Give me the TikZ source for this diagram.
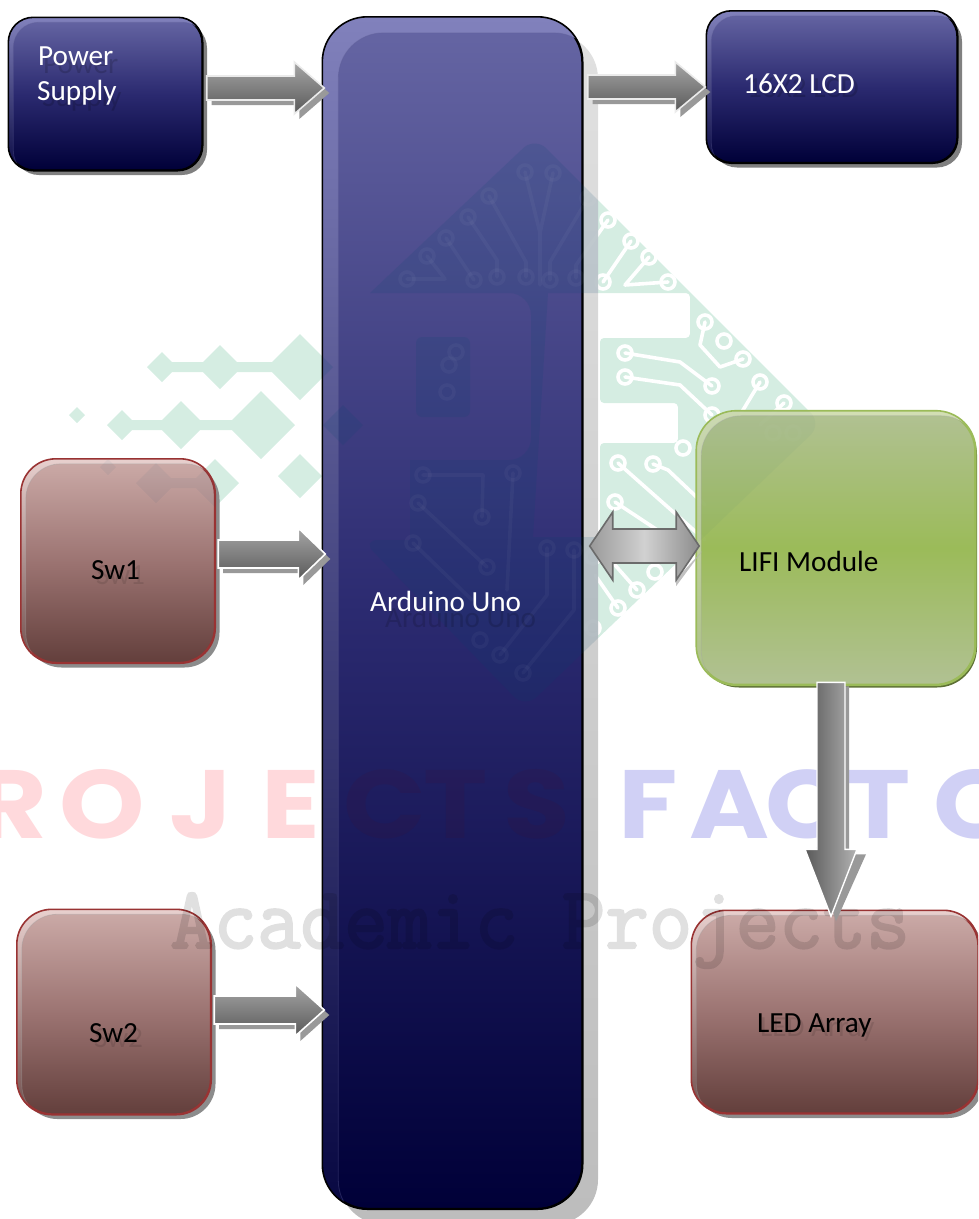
\documentclass[tikz,border=0pt]{standalone}
\usepackage{fontspec}
\setmainfont{Carlito}
\newfontfamily\wmb{Poppins}
\newfontfamily\wmt{Latin Modern Mono}[FakeBold=2.5]
\usetikzlibrary{calc,shadows}
\definecolor{navyT}{HTML}{6666A4}\definecolor{navyM}{HTML}{2B2A70}\definecolor{navyB}{HTML}{000038}
\definecolor{navyLT}{HTML}{8181BC}\definecolor{navyLB}{HTML}{060640}
\definecolor{redT}{HTML}{CCABA8}\definecolor{redM}{HTML}{9C7472}\definecolor{redB}{HTML}{633F3C}
\definecolor{redLT}{HTML}{E8D0CE}\definecolor{redLB}{HTML}{6E4C4A}\definecolor{redE}{HTML}{993333}
\definecolor{grnT}{HTML}{B1C193}\definecolor{grnM}{HTML}{9BBB59}\definecolor{grnLT}{HTML}{D2DEB4}\definecolor{grnLB}{HTML}{AABF85}
\definecolor{logoG}{HTML}{D5EDE2}\definecolor{logoD}{HTML}{00466E}
\definecolor{wmRed}{HTML}{FFD9DC}\definecolor{wmBlue}{HTML}{D0D0F5}
\tikzset{
  navybox/.style={draw=black,line width=1.4pt,top color=navyT,bottom color=navyB,middle color=navyM,inner sep=0pt,
    general shadow={shadow xshift=5pt,shadow yshift=-5pt,fill=black!50}},
  redbox/.style={draw=redE,line width=1.4pt,top color=redT,bottom color=redB,middle color=redM,inner sep=0pt,
    general shadow={shadow xshift=5pt,shadow yshift=-5pt,fill=black!45}},
  lbl/.style={anchor=base west,inner sep=0pt,font=\fontsize{29.2}{30}\selectfont},
  lblsh/.style={lbl,text=black,text opacity=.16},
  wm/.style={anchor=base west,inner sep=0pt,xscale=1.12,font=\wmb\bfseries\fontsize{97}{97}\selectfont},
  arrshadow/.style={fill=black!40},
  arrbody/.style={draw=black!5,line width=1.6pt,top color=black!35,bottom color=black!65,miter limit=10},
  trace/.style={line width=3.6pt,line join=round,line cap=round},
}
% ---------- logo geometry
\newcommand{\logobody}{[rounded corners=16pt] (370,293) -- (535,137) -- (822,424) -- (525,708) -- (362,540) [sharp corners] -- (410,540) -- (410,460) -- (505,460) [rounded corners=22pt] -- (531,460) -- (531,293) [sharp corners] -- cycle
  (548,293) [rounded corners=4pt] -- (690,293) -- (690,338) -- (600,338) -- (600,403) -- (678,403) -- (678,443) -- (600,443) [sharp corners] -- (600,537) -- (533,537) -- cycle
  [rounded corners=6pt] (416,337) rectangle (470,417)}
\newcommand{\dia}[3]{({#1-#3},#2) -- (#1,{#2-#3}) -- ({#1+#3},#2) -- (#1,{#2+#3}) -- cycle}
\newcommand{\hbarr}[3]{(#1,{#3-5}) -- (#2,{#3-5}) -- (#2,{#3+5}) -- (#1,{#3+5}) -- cycle}
\newcommand{\logodiamonds}{\dia{77}{415}{8} \dia{162}{367}{15} \dia{220}{367}{22} \dia{300}{367}{33} \hbarr{162}{300}{367}
  \dia{122}{425}{15} \dia{181}{425}{24} \dia{261}{425}{34} \hbarr{122}{261}{425} \dia{343}{425}{20}
  \dia{108}{467}{8} \dia{156}{483}{20} \dia{215}{483}{24} \dia{300}{476}{22} \hbarr{156}{215}{483}}
\newcommand{\logotraces}{
  (407,279) -- (445,279) -- (427,256) (446,238) -- (474,280) (468,217) -- (497,260) -- (497,277)
  (489,196) -- (526,262) -- (526,277) (525,172) -- (540,233) -- (553,173) (540,233) -- (540,285)
  (588,198) -- (550,262) -- (550,280) (608,220) -- (576,265) -- (576,278) (631,241) -- (603,282) (649,257) -- (625,285) -- (668,282)
  (705,322) -- (700,345) -- (720,367) -- (743,359) (625,353) -- (680,362) -- (712,386) (625,377) -- (680,385) -- (712,415)
  (760,382) -- (740,415) (784,403) -- (760,425)
  (618,463) -- (705,540) (653,464) -- (668,470) -- (705,505) (615,502) -- (680,545) (637,590) -- (600,548) (618,608) -- (595,575)
  (423,475) -- (483,475) -- (482,517) (418,503) -- (487,567) (413,543) -- (472,600) (513,473) -- (507,590)
  (547,548) -- (547,595) -- (500,655) (574,550) -- (574,610) -- (523,673)}
\newcommand{\logorings}{
  \foreach \p in {(407,279),(427,256),(446,238),(468,217),(489,196),(525,172),(553,173),(474,280),(497,277),(526,277),(550,280),(576,278),(603,282),(588,198),(608,220),(631,241),(649,257),(668,282),(705,322),(724,341),(743,359),(625,353),(625,377),(712,386),(712,415),(760,382),(784,403),(683,448),(618,463),(653,464),(615,502),(637,590),(618,608),(655,572),(593,628),(593,557),(423,475),(418,503),(413,543),(482,517),(487,567),(513,473),(547,548),(574,550),(480,640),(500,655),(523,673),(449,365),(447,392),(456,352),(773,433),(793,433)}{\draw[trace] \p circle (7);}}
% logo drawn over a box: a faint tint, with the traces faintly lifted out of it
\newcommand{\logotint}[2]{%
  \fill[logoD,opacity=#1,even odd rule] \logobody;
  \fill[logoD,opacity=#1] \logodiamonds;
  \begin{scope}[white,opacity=#2]
    \draw[trace] \logotraces;
    \logorings
  \end{scope}}
% box decoration: lighter crescent along top/left and inner edge line
\newcommand{\boxdeco}[7]{% name, r, d, light top, light bottom, inner-line colour, outline colour
  \begin{scope}
    \clip[rounded corners=#2pt] (#1.south west) rectangle (#1.north east);
    \shade[even odd rule,top color=#4,bottom color=#5,rounded corners=#2pt]
      (#1.south west) rectangle (#1.north east)
      ($(#1.south west)+(#3,#3)$) rectangle ($(#1.north east)+(#3,#3)$);
    \draw[#6,opacity=.35,line width=.8pt,rounded corners=#2pt] ($(#1.south west)+(#3,#3)$) rectangle ($(#1.north east)+(#3,#3)$);
  \end{scope}
  \draw[#7,line width=1.6pt,rounded corners=#2pt] (#1.south west) rectangle (#1.north east);}
% block arrow from named coordinate to named coordinate
\newcommand{\blockarrow}[6]{% start, tip, body half, head half, head length, border colour
  \fill[arrshadow] ($(#1)+(5,-#3+5)$) -- ($(#2)+(-#5+5,-#3+5)$) -- ($(#2)+(-#5+5,-#4+5)$) -- ($(#2)+(5,5)$) -- ($(#2)+(-#5+5,#4+5)$) -- ($(#2)+(-#5+5,#3+5)$) -- ($(#1)+(5,#3+5)$) -- cycle;
  \draw[arrbody,draw=#6] ($(#1)+(0,-#3)$) -- ($(#2)+(-#5,-#3)$) -- ($(#2)+(-#5,-#4)$) -- (#2) -- ($(#2)+(-#5,#4)$) -- ($(#2)+(-#5,#3)$) -- ($(#1)+(0,#3)$) -- cycle;}
\begin{document}
\begin{tikzpicture}[x=1pt,y=-1pt]
\path[use as bounding box] (0,0) rectangle (978,1219);
\clip (0,0) rectangle (978,1219);
% logo under the boxes
\fill[logoG,even odd rule] \logobody;
\fill[logoG] \logodiamonds;
\begin{scope}[white]
  \draw[trace] \logotraces;
  \logorings
\end{scope}
% watermark words under the boxes
\node[wm,text=wmRed] (wma) at (-24,838) {R\kern11pt O\kern22pt J\kern26pt E};
\node[wm,text=wmBlue] (wmb) at (618,838) {F\kern11pt A\kern-4pt C\kern-2pt T\kern21pt O};
% boxes
\node[minimum width=259pt,minimum height=1191pt,rounded corners=45pt,draw=black,line width=1.4pt,top color=navyT,bottom color=navyB,middle color=navyM,inner sep=0pt,
  general shadow={shadow xshift=16pt,shadow yshift=-16pt,top color=black!12,bottom color=black!26,rounded corners=45pt}] (ard) at (452.5,613) {};
\boxdeco{ard}{45}{16}{navyLT}{navyLB}{navyT!90!black}{black}
\node[navybox,minimum width=193pt,minimum height=152pt,rounded corners=25pt] (psu) at (105.5,94) {};
\boxdeco{psu}{25}{5}{navyLT}{navyLB}{navyT!90!black}{black}
\node[navybox,minimum width=250pt,minimum height=151pt,rounded corners=25pt] (lcd) at (832,87) {};
\boxdeco{lcd}{25}{5}{navyLT}{navyLB}{navyT!90!black}{black}
\node[redbox,minimum width=193pt,minimum height=203pt,rounded corners=35pt] (swa) at (118,561) {};
\boxdeco{swa}{35}{5}{redLT}{redLB}{black!40}{redE}
\node[redbox,minimum width=193pt,minimum height=204pt,rounded corners=35pt] (swb) at (114,1012) {};
\boxdeco{swb}{35}{5}{redLT}{redLB}{black!40}{redE}
\node[redbox,minimum width=286pt,minimum height=202pt,rounded corners=35pt] (led) at (835,1012) {};
\boxdeco{led}{35}{5}{redLT}{redLB}{black!40}{redE}
\node[draw=grnM,line width=1.6pt,top color=grnT,bottom color=grnT,middle color=grnM,inner sep=0pt,minimum width=278pt,minimum height=273pt,rounded corners=40pt,
  general shadow={shadow xshift=2pt,shadow yshift=-3pt,fill=grnM!60!black}] (lifi) at (836,548) {};
\boxdeco{lifi}{40}{5}{grnLT}{grnLB}{black!35}{grnM}
% logo seen through the boxes
\begin{scope}
  \clip[rounded corners=45pt] (323,17) rectangle (598,1225);
  \logotint{.13}{.035}
\end{scope}
\begin{scope}
  \clip[rounded corners=40pt] (697,411) rectangle (975,684);
  \logotint{.03}{.02}
\end{scope}
\begin{scope}
  \clip[rounded corners=35pt] (21,460) rectangle (215,664);
  \logotint{.05}{0}
\end{scope}
% watermark words over the boxes
\node[wm,text=red!40!black,text opacity=.07] (wmd) at (343,838) {C\kern-2pt T\kern14pt S};
\begin{scope}[transparency group,opacity=.12]
\node[anchor=base west,inner sep=0pt,text=black,xscale=.96,font=\wmt\fontsize{88}{88}\selectfont] (wmc) at (170,948) {Academic Projects};
\end{scope}
% arrows
\coordinate (psuS) at ($(psu.east)+(4,-6)$);
\coordinate (psuT) at ($(ard.west |- psuS)+(2,0)$);
\blockarrow{psuS}{psuT}{12}{26}{30}{black!8}
\coordinate (lcdS) at ($(ard.east |- psuS)+(5,-1)$);
\coordinate (lcdT) at ($(lcd.west |- lcdS)+(-1,0)$);
\blockarrow{lcdS}{lcdT}{12}{25}{30}{black!8}
\coordinate (swaS) at ($(swa.east)+(3,-7)$);
\coordinate (swaT) at ($(ard.west |- swaS)+(3,0)$);
\blockarrow{swaS}{swaT}{14}{26}{27}{white}
\coordinate (swbS) at ($(swb.east)+(3,-2)$);
\coordinate (swbT) at ($(ard.west |- swbS)+(2,0)$);
\blockarrow{swbS}{swbT}{14}{26}{29}{white}
% double arrow
\coordinate (dblL) at ($(ard.east)+(7,-67)$);
\coordinate (dblR) at ($(lifi.west)+(3,-2)$);
\fill[black!30,opacity=.8] ($(dblR)+(-23,33)$) -- ($(dblR)+(3,5)$) -- ($(dblR)+(-23,40)$) -- cycle;
\draw[draw=black!58,line width=1.6pt,left color=black!40,right color=black!45,middle color=black!18,miter limit=10]
  (dblL) -- ($(dblL)+(23,-34)$) -- ($(dblL)+(23,-17)$) -- ($(dblR)+(-23,-17)$) -- ($(dblR)+(-23,-34)$) -- (dblR)
  -- ($(dblR)+(-23,34)$) -- ($(dblR)+(-23,17)$) -- ($(dblL)+(23,17)$) -- ($(dblL)+(23,34)$) -- cycle;
% down arrow
\coordinate (dnS) at ($(lifi.south)+(-5,-3)$);
\coordinate (dnT) at ($(led.north)+(-4,6)$);
\fill[arrshadow] ($(dnS)+(8,4)$) -- ($(dnS)+(18,4)$) -- ($(dnT)+(18,-62)$) -- ($(dnT)+(35,-62)$) -- ($(dnT)+(5,5)$) -- ($(dnT)+(-15,-62)$) -- cycle;
\draw[draw=white,line width=1.4pt,left color=black!65,right color=black!30,miter limit=10]
  ($(dnS)+(-14,0)$) -- ($(dnS)+(14,0)$) -- ($(dnT)+(14,-67)$) -- ($(dnT)+(26,-67)$) -- (dnT) -- ($(dnT)+(-26,-67)$) -- ($(dnT)+(-14,-67)$) -- cycle;
% labels
\node[lblsh] (t1s) at (43,73) {Power};
\node[lblsh] (t2s) at (42,106) {Supply};
\node[lbl,text=white] (t1) at (38,65) {Power};
\node[lbl,text=white] (t2) at (37,100) {Supply};
\node[lblsh] (t3s) at (747,97) {16X2 LCD};
\node[lbl,text=white] (t3) at (743,93) {16X2 LCD};
\node[lblsh,text opacity=.14] (t4s) at (385,627) {Arduino Uno};
\node[lbl,text=white] (t4) at (370,611) {Arduino Uno};
\node[lblsh,text opacity=.1] (t5s) at (96,584) {Sw1};
\node[lbl] (t5) at (91,579) {Sw1};
\node[lblsh,text opacity=.1] (t6s) at (94,1047) {Sw2};
\node[lbl] (t6) at (89,1042) {Sw2};
\node[lblsh,text opacity=.1] (t7s) at (760,1036) {LED Array};
\node[lbl] (t7) at (757,1032) {LED Array};
\node[lbl] (t8) at (739,571) {LIFI Module};
\end{tikzpicture}
\end{document}
